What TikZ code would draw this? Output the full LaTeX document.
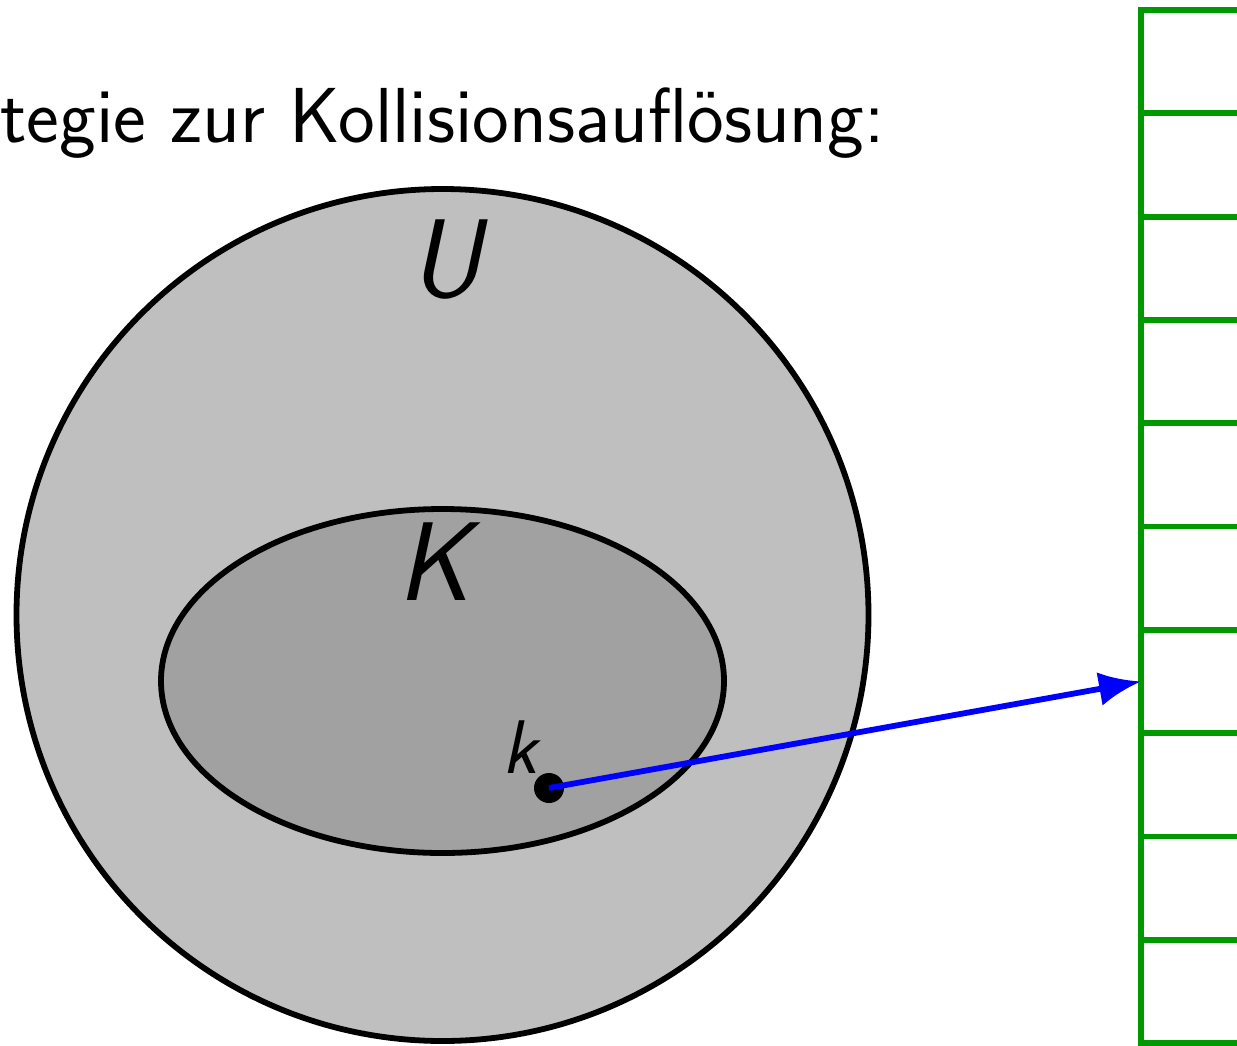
\documentclass[tikz,border=0pt]{standalone}
\usetikzlibrary{arrows.meta,shapes.geometric}
\definecolor{tabgreen}{RGB}{0,153,0}
\begin{document}
\begin{tikzpicture}[x=0.5pt,y=-0.5pt,
  setline/.style={draw=black, line width=2.9pt},
  cellbox/.style={draw=tabgreen, line width=2.9pt, minimum width=100pt, minimum height=51.65pt, inner sep=0pt, outer sep=0pt},
  bigletter/.style={font=\sffamily\itshape\fontsize{56}{60}\selectfont, inner sep=0pt, anchor=base},
]
\useasboundingbox (0,0) rectangle (1237,1045);
% title
\node[anchor=base east, inner sep=0pt, font=\sffamily\fontsize{39}{46}\selectfont] (title) at (885,142) {Strategie zur Kollisionsauflösung:};
% universe
\node[circle, setline, fill=black!25, minimum size=426pt, inner sep=0pt] (Uset) at (442.5,615) {};
\node[bigletter] (Ulab) at (446,297) {U};
% key set
\node[ellipse, setline, fill=black!37, minimum width=281.5pt, minimum height=172pt, inner sep=0pt] (Kset) at (442.5,681) {};
\node[bigletter] (Klab) at (434,600) {K};
% key
\node[circle, fill=black, inner sep=0pt, minimum size=15pt] (dot) at (549,788) {};
\node[anchor=base, inner sep=0pt, font=\sffamily\itshape\fontsize{38}{45}\selectfont] (klab) at (520,773) {k};
% table
\foreach \i in {0,...,9} {
  \node[cellbox, anchor=north west] (c\i) at (1141,{10+103.3*\i}) {};
}
% arrow
\draw[blue, line width=2.9pt, -{Latex[length=21pt,width=17pt]}] (dot.center) -- (c6.west);
\end{tikzpicture}
\end{document}
